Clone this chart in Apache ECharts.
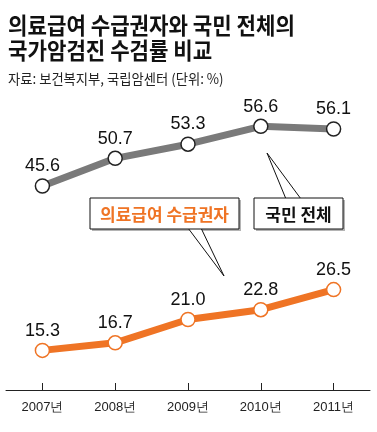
<!doctype html>
<html>
<head>
<meta charset="utf-8" />
<script src="https://cdn.jsdelivr.net/npm/echarts@6/dist/echarts.min.js"></script>
<style>
  html, body { margin: 0; padding: 0; background: #fff; }
  #chart { width: 377px; height: 432px; }
</style>
</head>
<body>
<div id="chart"></div>
<script>
  const years = ['2007년', '2008년', '2009년', '2010년', '2011년'];
  const nationValues = [45.6, 50.7, 53.3, 56.6, 56.1];
  const medicaidValues = [15.3, 16.7, 21.0, 22.8, 26.5];

  const titleLines = ['의료급여 수급권자와 국민 전체의', '국가암검진 수검률 비교'];
  const sourceText = '자료: 보건복지부, 국립암센터 (단위: %)';
  const nationName = '국민 전체';
  const medicaidName = '의료급여 수급권자';

  const grey = '#7a7a7a';
  const orange = '#ef7425';
  const cjk = '"Noto Sans CJK KR", "Noto Sans", sans-serif';
  const num = '"Liberation Sans", Arial, sans-serif';

  // callout box: rectangle with a narrow wedge pointing at the line
  function callout(x, y, w, h, wedge, text, color) {
    return [
      { type: 'rect', shape: { x: x + 2, y: y + 2, width: w, height: h }, style: { fill: '#b4b4b4' }, z: 10 },
      { type: 'polygon', shape: { points: wedge }, style: { fill: '#fff', stroke: '#111', lineWidth: 1 }, z: 11 },
      { type: 'rect', shape: { x: x, y: y, width: w, height: h }, style: { fill: '#fff', stroke: '#111', lineWidth: 1 }, z: 12 },
      {
        type: 'text', x: x + w / 2, y: y + h / 2 + 1, z: 13,
        style: { text: text, fill: color, font: 'bold 17px ' + cjk, align: 'center', verticalAlign: 'middle' }
      }
    ];
  }

  const chart = echarts.init(document.getElementById('chart'));

  const lineSeries = (name, data, color, border) => ({
    name: name,
    type: 'line',
    data: data,
    z: 5,
    lineStyle: { color: color, width: 7 },
    symbol: 'circle',
    symbolSize: 14,
    itemStyle: { color: '#fff', borderColor: border, borderWidth: 1.5 },
    label: {
      show: true, position: 'top', distance: 3,
      color: '#111', fontFamily: num, fontSize: 18,
      formatter: (p) => p.value.toFixed(1)
    }
  });

  chart.setOption({
    animation: false,
    backgroundColor: '#fff',
    grid: { left: 6, right: 7, top: 97, bottom: 42 },
    xAxis: {
      type: 'category',
      data: years,
      boundaryGap: true,
      axisLine: { lineStyle: { color: '#222', width: 1 } },
      axisTick: { show: true, inside: true, alignWithLabel: true, length: 7, lineStyle: { color: '#222' } },
      axisLabel: { color: '#222', fontFamily: num, fontSize: 13, margin: 11 }
    },
    yAxis: { type: 'value', min: 8, max: 62, show: false, splitLine: { show: false } },
    series: [
      lineSeries(nationName, nationValues, grey, '#222'),
      lineSeries(medicaidName, medicaidValues, orange, orange)
    ],
    graphic: [
      {
        type: 'text', x: 8, y: 25, scaleX: 0.92,
        style: { text: titleLines[0], fill: '#111', font: 'bold 23px ' + cjk, verticalAlign: 'middle' }
      },
      {
        type: 'text', x: 8, y: 50, scaleX: 0.92,
        style: { text: titleLines[1], fill: '#111', font: 'bold 23px ' + cjk, verticalAlign: 'middle' }
      },
      {
        type: 'text', x: 8, y: 79, scaleX: 0.95,
        style: { text: sourceText, fill: '#222', font: '14px ' + cjk, verticalAlign: 'middle' }
      }
    ]
      .concat(callout(254, 198, 89, 31, [[286, 199], [267, 153], [301, 199]], nationName, '#111'))
      .concat(callout(90, 198, 149, 31, [[188, 228], [224, 276], [201, 228]], medicaidName, orange))
  });
</script>
</body>
</html>
